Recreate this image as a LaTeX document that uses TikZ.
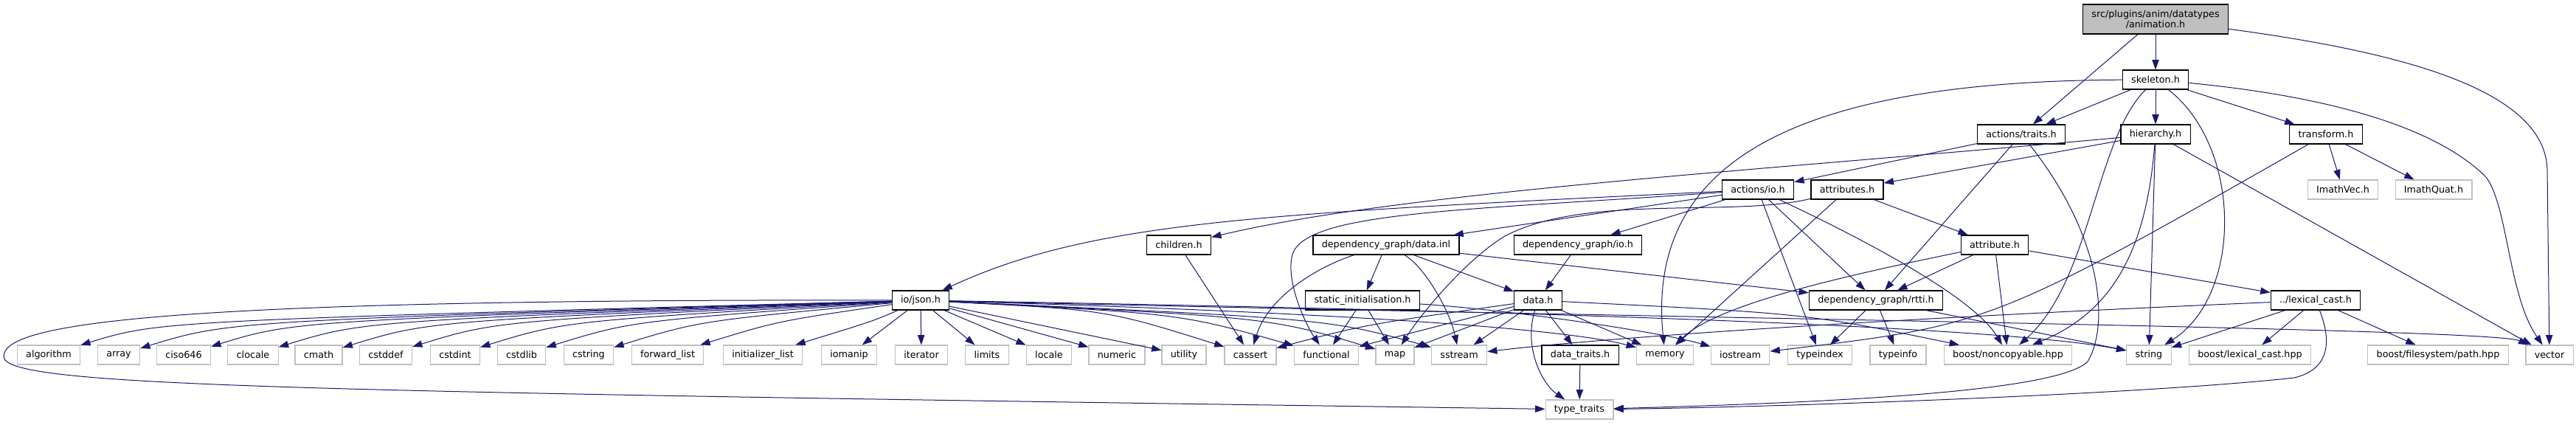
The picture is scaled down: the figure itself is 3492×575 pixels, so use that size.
\documentclass[tikz,border=0pt]{standalone}
\usepackage{fontspec}
\setmainfont{DejaVu Sans}
\usetikzlibrary{arrows.meta}

\begin{document}
\begin{tikzpicture}[x=0.75pt, y=-0.75pt, font=\fontsize{9.56}{10.75}\selectfont,
  hdr/.style={draw=black, fill=white, line width=0.9pt, inner xsep=8.9pt, inner ysep=0pt, minimum height=19.5pt},
  sys/.style={hdr, draw=leafgray},
  dep/.style={draw=edgeblue, line width=0.75pt, -{Triangle[length=10pt,width=7pt]}}]
\definecolor{edgeblue}{HTML}{191970}
\definecolor{leafgray}{HTML}{BFBFBF}
\definecolor{rootgray}{HTML}{BFBFBF}
\path[use as bounding box, fill=white] (0,0) rectangle (3492,575);

\node[hdr, fill=rootgray, align=center, minimum height=30pt] (anim) at (2922,26) {src/plugins/anim/datatypes\\/animation.h};
\node[hdr] (skel) at (2922,108) {skeleton.h};
\node[hdr] (traits) at (2740,182) {actions/traits.h};
\node[hdr] (hier) at (2922,182) {hierarchy.h};
\node[hdr] (transf) at (3153,182) {transform.h};
\node[hdr] (aio) at (2383,257) {actions/io.h};
\node[hdr] (attrs) at (2504,257) {attributes.h};
\node[sys] (imvec) at (3176,257) {ImathVec.h};
\node[sys] (imquat) at (3299,257) {ImathQuat.h};
\node[hdr] (children) at (1598,332) {children.h};
\node[hdr] (dinl) at (1879,332) {dependency\_graph/data.inl};
\node[hdr] (dgio) at (2139,332) {dependency\_graph/io.h};
\node[hdr] (attr) at (2704,332) {attribute.h};
\node[hdr] (json) at (1248,407) {io/json.h};
\node[hdr] (sinit) at (1847,407) {static\_initialisation.h};
\node[hdr] (datah) at (2085,407) {data.h};
\node[hdr] (rtti) at (2543,407) {dependency\_graph/rtti.h};
\node[hdr] (lexc) at (3139,407) {../lexical\_cast.h};

\foreach \n/\x in {algorithm/66, array/161, ciso646/249, clocale/343, cmath/432, cstddef/523, cstdint/617, cstdlib/707, cstring/798, iomanip/1151, iterator/1249, limits/1338, locale/1422, numeric/1514, utility/1605, cassert/1695, functional/1798, map/1891, sstream/1978, memory/2257, iostream/2359, typeindex/2467, typeinfo/2573, string/2913, vector/3456}
  \node[sys] (\n) at (\x,481) {\n};
\node[sys] (fwdlist) at (905,481) {forward\_list};
\node[sys] (initlist) at (1034,481) {initializer\_list};
\node[hdr] (dtraits) at (2142,481) {data\_traits.h};
\node[sys] (noncopy) at (2722,481) {boost/noncopyable.hpp};
\node[sys] (blexcast) at (3050,481) {boost/lexical\_cast.hpp};
\node[sys] (bpath) at (3305,481) {boost/filesystem/path.hpp};
\node[sys] (ttraits) at (2141,555) {type\_traits};

\draw[dep] (anim) -- (skel);
\draw[dep] (anim) -- (traits);
\draw[dep] (anim) .. controls (3250,70) and (3450,120) .. (3453,230) -- (vector);

\draw[dep] (skel) -- (traits);
\draw[dep] (skel) -- (hier);
\draw[dep] (skel) -- (transf);
\draw[dep] (skel) .. controls (2450,110) and (2230,210) .. (memory);
\draw[dep] (skel) .. controls (2840,190) and (2835,380) .. (noncopy);
\draw[dep] (skel) .. controls (3040,200) and (3040,400) .. (string);
\draw[dep] (skel) .. controls (3150,130) and (3300,170) .. (3370,240) .. controls (3400,280) and (3400,400) .. (vector);

\draw[dep] (traits) -- (aio);
\draw[dep] (traits) -- (rtti);
\draw[dep] (traits) .. controls (2850,320) and (2860,440) .. (2830,490) .. controls (2790,530) and (2500,545) .. (ttraits);

\draw[dep] (hier) .. controls (2400,230) and (1900,260) .. (children);
\draw[dep] (hier) -- (attrs);
\draw[dep] (hier) .. controls (2910,330) and (2870,420) .. (noncopy);
\draw[dep] (hier) -- (string);
\draw[dep] (hier) -- (vector);

\draw[dep] (transf) -- (imvec);
\draw[dep] (transf) -- (imquat);
\draw[dep] (transf) .. controls (2700,440) .. (iostream);

\draw[dep] (aio) .. controls (1700,290) and (1480,300) .. (json);
\draw[dep] (aio) -- (dinl);
\draw[dep] (aio) -- (dgio);
\draw[dep] (aio) -- (rtti);
\draw[dep] (aio) .. controls (2000,285) and (1770,285) .. (1752,345) .. controls (1742,380) and (1770,440) .. (functional);
\draw[dep] (aio) -- (typeindex);
\draw[dep] (aio) .. controls (2560,340) and (2680,410) .. (noncopy);

\draw[dep] (attrs) -- (attr);
\draw[dep] (attrs) -- (memory);
\draw[dep] (attrs) .. controls (2350,295) and (2150,262) .. (2040,320) .. controls (1990,350) and (1930,420) .. (map);

\draw[dep] (attr) -- (rtti);
\draw[dep] (attr) -- (lexc);
\draw[dep] (attr) .. controls (2520,370) and (2330,410) .. (memory);
\draw[dep] (attr) -- (noncopy);

\draw[dep] (children) -- (cassert);

\draw[dep] (dinl) .. controls (1790,360) and (1720,400) .. (cassert);
\draw[dep] (dinl) -- (sinit);
\draw[dep] (dinl) .. controls (1930,360) and (1965,420) .. (sstream);
\draw[dep] (dinl) -- (datah);
\draw[dep] (dinl) -- (rtti);

\draw[dep] (dgio) -- (datah);

\foreach \n/\x in {algorithm/66, array/161, ciso646/249, clocale/343, cmath/432, cstddef/523, cstdint/617, cstdlib/707, cstring/798, fwdlist/905, initlist/1034}
  \draw[dep] (json) .. controls (\x+150,435) .. (\n);
\foreach \n in {iomanip, iterator, limits, locale, numeric, utility}
  \draw[dep] (json) -- (\n);
\draw[dep] (json) .. controls (1500,420) .. (cassert);
\draw[dep] (json) .. controls (1600,425) .. (functional);
\draw[dep] (json) .. controls (1720,430) .. (map);
\draw[dep] (json) .. controls (1800,432) .. (sstream);
\draw[dep] (json) .. controls (1700,420) and (2100,440) .. (memory);
\draw[dep] (json) .. controls (2000,420) and (2700,440) .. (string);
\draw[dep] (json) .. controls (2300,432) and (3380,445) .. (vector);
\draw[dep] (json) .. controls (200,405) and (5,440) .. (5,483) .. controls (5,525) and (400,530) .. (ttraits);

\draw[dep] (sinit) -- (functional);
\draw[dep] (sinit) -- (map);
\draw[dep] (sinit) .. controls (2050,420) and (2250,450) .. (iostream);

\draw[dep] (datah) .. controls (1850,440) .. (cassert);
\draw[dep] (datah) -- (functional);
\draw[dep] (datah) -- (map);
\draw[dep] (datah) -- (sstream);
\draw[dep] (datah) -- (dtraits);
\draw[dep] (datah) -- (memory);
\draw[dep] (datah) .. controls (2450,425) .. (noncopy);
\draw[dep] (datah) .. controls (2065,470) and (2090,520) .. (ttraits);
\draw[dep] (dtraits) -- (ttraits);

\draw[dep] (rtti) -- (typeindex);
\draw[dep] (rtti) -- (typeinfo);
\draw[dep] (rtti) -- (string);

\draw[dep] (lexc) .. controls (2600,430) and (2200,455) .. (sstream);
\draw[dep] (lexc) -- (string);
\draw[dep] (lexc) -- (blexcast);
\draw[dep] (lexc) -- (bpath);
\draw[dep] (lexc) .. controls (3160,460) and (3160,500) .. (3110,512) .. controls (2900,535) and (2400,552) .. (ttraits);
\end{tikzpicture}
\end{document}
